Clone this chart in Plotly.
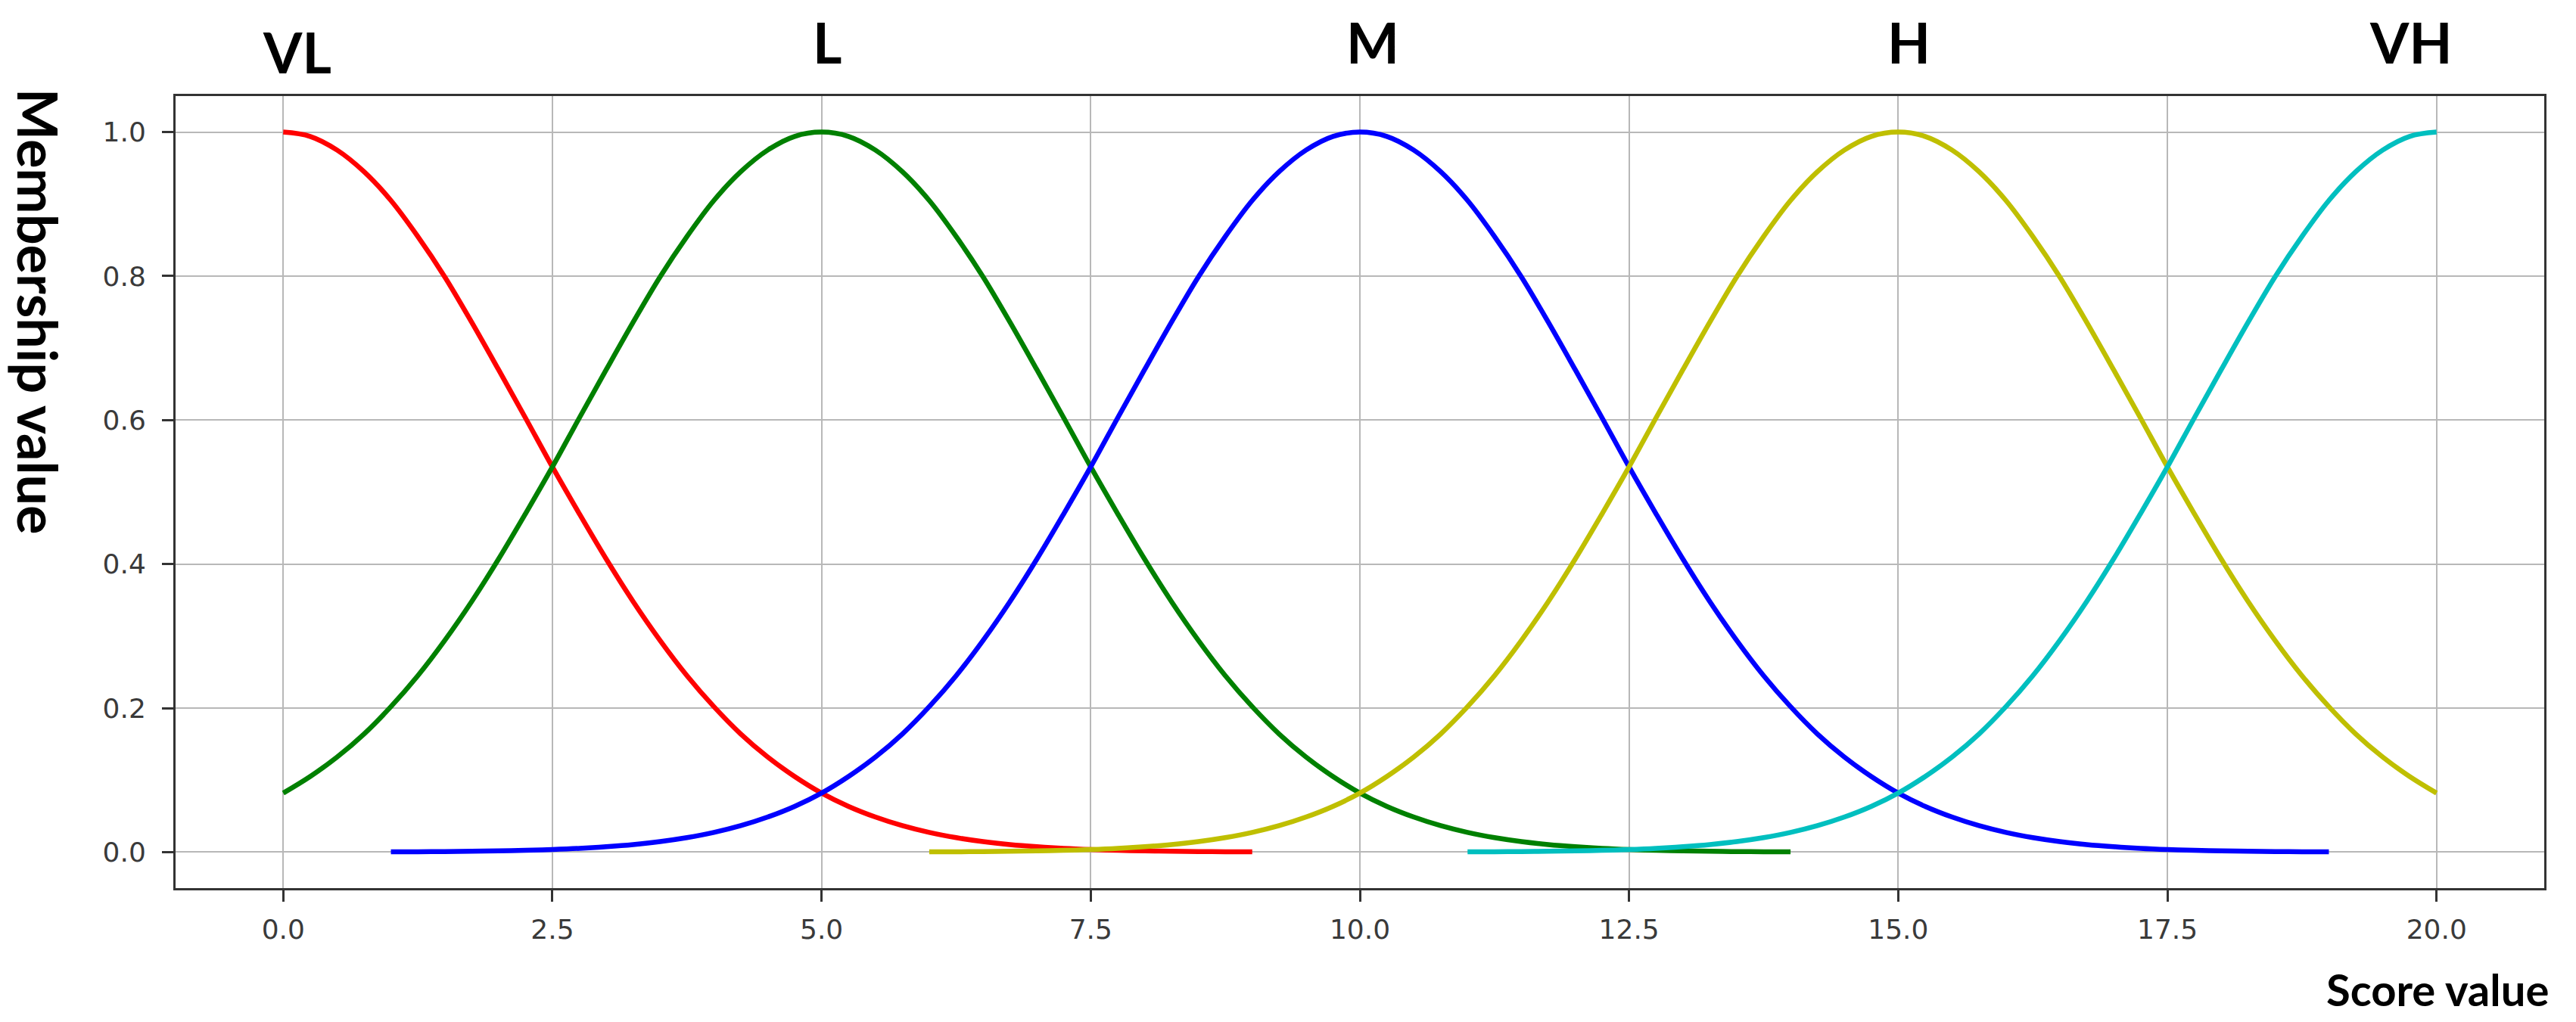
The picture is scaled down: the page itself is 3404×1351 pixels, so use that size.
import plotly.graph_objects as go

x_vl = [0, 0.25, 0.5, 0.75, 1, 1.25, 1.5, 1.75, 2, 2.25, 2.5, 2.75, 3, 3.25, 3.5, 3.75,
        4, 4.25, 4.5, 4.75, 5, 5.25, 5.5, 5.75, 6, 6.25, 6.5, 6.75, 7, 7.25, 7.5, 7.75,
        8, 8.25, 8.5, 8.75, 9]
y_vl = [1.000, 0.994, 0.975, 0.945, 0.905, 0.855, 0.799, 0.736, 0.670, 0.603, 0.535,
        0.470, 0.407, 0.348, 0.294, 0.245, 0.202, 0.164, 0.132, 0.105, 0.082, 0.0635,
        0.0487, 0.0367, 0.0273, 0.0201, 0.0146, 0.0105, 0.0075, 0.0052, 0.0036, 0.0025,
        0.0017, 0.0011, 0.0007, 0.0005, 0.0003]

x_l = [0, 0.25, 0.5, 0.75, 1, 1.25, 1.5, 1.75, 2, 2.25, 2.5, 2.75, 3, 3.25, 3.5, 3.75,
       4, 4.25, 4.5, 4.75, 5, 5.25, 5.5, 5.75, 6, 6.25, 6.5, 6.75, 7, 7.25, 7.5, 7.75,
       8, 8.25, 8.5, 8.75, 9, 9.25, 9.5, 9.75, 10, 10.25, 10.5, 10.75, 11, 11.25, 11.5,
       11.75, 12, 12.25, 12.5, 12.75, 13, 13.25, 13.5, 13.75, 14]
y_l = [0.082, 0.105, 0.132, 0.164, 0.202, 0.245, 0.294, 0.348, 0.407, 0.470, 0.535,
       0.603, 0.670, 0.736, 0.799, 0.855, 0.905, 0.945, 0.975, 0.994, 1.000,
       0.994, 0.975, 0.945, 0.905, 0.855, 0.799, 0.736, 0.670, 0.603, 0.535,
       0.470, 0.407, 0.348, 0.294, 0.245, 0.202, 0.164, 0.132, 0.105, 0.082, 0.0635,
       0.0487, 0.0367, 0.0273, 0.0201, 0.0146, 0.0105, 0.0075, 0.0052, 0.0036, 0.0025,
       0.0017, 0.0011, 0.0007, 0.0005, 0.0003]

x_m = [1, 1.25, 1.5, 1.75, 2, 2.25, 2.5, 2.75, 3, 3.25, 3.5, 3.75, 4, 4.25, 4.5, 4.75,
       5, 5.25, 5.5, 5.75, 6, 6.25, 6.5, 6.75, 7, 7.25, 7.5, 7.75, 8, 8.25, 8.5, 8.75,
       9, 9.25, 9.5, 9.75, 10, 10.25, 10.5, 10.75, 11, 11.25, 11.5, 11.75, 12, 12.25,
       12.5, 12.75, 13, 13.25, 13.5, 13.75, 14, 14.25, 14.5, 14.75, 15, 15.25, 15.5,
       15.75, 16, 16.25, 16.5, 16.75, 17, 17.25, 17.5, 17.75, 18, 18.25, 18.5, 18.75, 19]
y_m = [0.0003, 0.0005, 0.0007, 0.0011, 0.0017, 0.0025, 0.0036, 0.0052, 0.0075, 0.0105,
       0.0146, 0.0201, 0.0273, 0.0367, 0.0487, 0.0635, 0.082, 0.105, 0.132, 0.164,
       0.202, 0.245, 0.294, 0.348, 0.407, 0.470, 0.535, 0.603, 0.670, 0.736, 0.799,
       0.855, 0.905, 0.945, 0.975, 0.994, 1.000,
       0.994, 0.975, 0.945, 0.905, 0.855, 0.799, 0.736, 0.670, 0.603, 0.535,
       0.470, 0.407, 0.348, 0.294, 0.245, 0.202, 0.164, 0.132, 0.105, 0.082, 0.0635,
       0.0487, 0.0367, 0.0273, 0.0201, 0.0146, 0.0105, 0.0075, 0.0052, 0.0036, 0.0025,
       0.0017, 0.0011, 0.0007, 0.0005, 0.0003]

x_h = [6, 6.25, 6.5, 6.75, 7, 7.25, 7.5, 7.75, 8, 8.25, 8.5, 8.75, 9, 9.25, 9.5, 9.75,
       10, 10.25, 10.5, 10.75, 11, 11.25, 11.5, 11.75, 12, 12.25, 12.5, 12.75, 13,
       13.25, 13.5, 13.75, 14, 14.25, 14.5, 14.75, 15, 15.25, 15.5, 15.75, 16, 16.25,
       16.5, 16.75, 17, 17.25, 17.5, 17.75, 18, 18.25, 18.5, 18.75, 19, 19.25, 19.5,
       19.75, 20]
y_h = [0.0003, 0.0005, 0.0007, 0.0011, 0.0017, 0.0025, 0.0036, 0.0052, 0.0075, 0.0105,
       0.0146, 0.0201, 0.0273, 0.0367, 0.0487, 0.0635, 0.082, 0.105, 0.132, 0.164,
       0.202, 0.245, 0.294, 0.348, 0.407, 0.470, 0.535, 0.603, 0.670, 0.736, 0.799,
       0.855, 0.905, 0.945, 0.975, 0.994, 1.000,
       0.994, 0.975, 0.945, 0.905, 0.855, 0.799, 0.736, 0.670, 0.603, 0.535,
       0.470, 0.407, 0.348, 0.294, 0.245, 0.202, 0.164, 0.132, 0.105, 0.082]

x_vh = [11, 11.25, 11.5, 11.75, 12, 12.25, 12.5, 12.75, 13, 13.25, 13.5, 13.75, 14,
        14.25, 14.5, 14.75, 15, 15.25, 15.5, 15.75, 16, 16.25, 16.5, 16.75, 17, 17.25,
        17.5, 17.75, 18, 18.25, 18.5, 18.75, 19, 19.25, 19.5, 19.75, 20]
y_vh = [0.0003, 0.0005, 0.0007, 0.0011, 0.0017, 0.0025, 0.0036, 0.0052, 0.0075, 0.0105,
        0.0146, 0.0201, 0.0273, 0.0367, 0.0487, 0.0635, 0.082, 0.105, 0.132, 0.164,
        0.202, 0.245, 0.294, 0.348, 0.407, 0.470, 0.535, 0.603, 0.670, 0.736, 0.799,
        0.855, 0.905, 0.945, 0.975, 0.994, 1.000]

set_names = ["VL", "L", "M", "H", "VH"]
label_x = [0.13, 5.05, 10.12, 15.1, 19.76]
label_top_px = [14, 1, 1, 1, 1]   # top of each label box, pixels from the top of the page

x_ticks = [0, 2.5, 5, 7.5, 10, 12.5, 15, 17.5, 20]
x_tick_text = ["0.0", "2.5", "5.0", "7.5", "10.0", "12.5", "15.0", "17.5", "20.0"]
y_ticks = [0, 0.2, 0.4, 0.6, 0.8, 1.0]
y_tick_text = ["0.0", "0.2", "0.4", "0.6", "0.8", "1.0"]

series = [(x_vl, y_vl, "#ff0000"), (x_l, y_l, "#008000"), (x_m, y_m, "#0000ff"),
          (x_h, y_h, "#bfbf00"), (x_vh, y_vh, "#00bfbf")]

W, H = 3404, 1351
ML, MR, MT, MB = 224, 50, 119, 185
PW, PH = W - ML - MR, H - MT - MB

fig = go.Figure()
for (xs, ys, col), name in zip(series, set_names):
    fig.add_trace(go.Scatter(x=xs, y=ys, mode="lines", name=name,
                             line=dict(color=col, width=6.5, shape="spline", smoothing=1.0)))

tick_font = dict(family="DejaVu Sans", size=36, color="#3a3a3a")
axis_common = dict(showline=True, mirror=True, linecolor="#333333", linewidth=3,
                   ticks="outside", ticklen=15, tickwidth=2.5, tickcolor="#333333",
                   showgrid=True, gridcolor="#b8b8b8", gridwidth=2.2, zeroline=False,
                   tickfont=tick_font)

fig.update_layout(
    width=W, height=H,
    margin=dict(l=ML, r=MR, t=MT, b=MB),
    plot_bgcolor="white", paper_bgcolor="white",
    showlegend=False,
    xaxis=dict(range=[-1, 21], tickvals=x_ticks, ticktext=x_tick_text,
               ticklabelstandoff=6, **axis_common),
    yaxis=dict(range=[-0.05, 1.05], tickvals=y_ticks, ticktext=y_tick_text,
               ticklabelstandoff=14, **axis_common),
)

for name, lx, top in zip(set_names, label_x, label_top_px):
    fig.add_annotation(x=lx, y=(H - MB - top) / PH, xref="x", yref="paper",
                       text="<b>%s</b>" % name, xanchor="center", yanchor="top",
                       showarrow=False, font=dict(family="Lato", size=74, color="black"))

fig.add_annotation(x=(43 - ML) / PW, y=(H - MB - 404) / PH, xref="paper", yref="paper",
                   text="<b>Membership value</b>", textangle=90, showarrow=False,
                   xanchor="center", yanchor="middle",
                   font=dict(family="Lato", size=72, color="black"))
fig.add_annotation(x=(3213 - ML) / PW, y=(H - MB - 1299) / PH, xref="paper", yref="paper",
                   text="<b>Score value</b>", showarrow=False,
                   xanchor="center", yanchor="middle",
                   font=dict(family="Lato", size=58, color="black"))

fig.write_html("out.html")
